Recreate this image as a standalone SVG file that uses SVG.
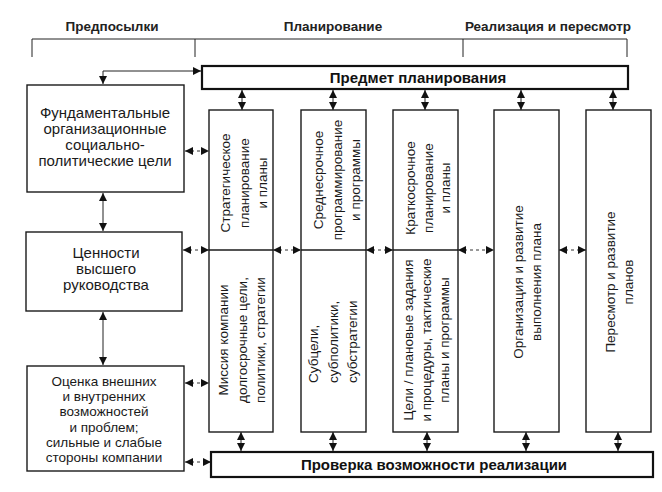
<svg xmlns="http://www.w3.org/2000/svg" width="662" height="492" viewBox="0 0 662 492">
<style>
  .box { fill: #fff; stroke: #1a1a1a; stroke-width: 1.4; }
  .bar { fill: #fff; stroke: #111; stroke-width: 2.2; }
  .ln { fill: none; stroke: #222; stroke-width: 1; }
  .dash { fill: none; stroke: #333; stroke-width: 1; stroke-dasharray: 3 3; }
  .div { fill: none; stroke: #1a1a1a; stroke-width: 1.4; }
  .hd { font-family: "Liberation Sans", Arial, sans-serif; font-weight: bold; font-size: 13.5px; fill: #222; text-anchor: middle; }
  .bt { font-family: "Liberation Sans", Arial, sans-serif; font-weight: bold; font-size: 15px; fill: #111; text-anchor: middle; }
  .lt { font-family: "Liberation Sans", Arial, sans-serif; font-size: 15px; fill: #1a1a1a; text-anchor: middle; }
  .ls { font-family: "Liberation Sans", Arial, sans-serif; font-size: 13.5px; fill: #1a1a1a; text-anchor: middle; }
  .ct { font-family: "Liberation Sans", Arial, sans-serif; font-size: 13.5px; fill: #1a1a1a; text-anchor: middle; }
  .cs { font-family: "Liberation Sans", Arial, sans-serif; font-size: 13.5px; fill: #1a1a1a; text-anchor: start; }
</style>
<defs>
  <marker id="ah" viewBox="0 0 10 10" refX="10" refY="5" markerWidth="8" markerHeight="8" markerUnits="userSpaceOnUse" orient="auto-start-reverse">
    <path d="M0,0 L10,5 L0,10 z" fill="#111"/>
  </marker>
</defs>
<rect width="662" height="492" fill="#fff"/>

<g id="headers">
  <text class="hd" x="112" y="31">Предпосылки</text>
  <text class="hd" x="333" y="31">Планирование</text>
  <text class="hd" x="548" y="31">Реализация и пересмотр</text>
  <path class="ln" d="M32,57 V39 H627 V57 M195,39 V57 M463,39 V57"/>
</g>

<g id="connectors">
  <path class="ln" d="M103,84 V71 H201" marker-start="url(#ah)" marker-end="url(#ah)"/>
  <path class="ln" d="M103,193 V231" marker-start="url(#ah)" marker-end="url(#ah)"/>
  <path class="ln" d="M103,312 V365" marker-start="url(#ah)" marker-end="url(#ah)"/>
  <path class="dash" d="M185,151 H209" marker-start="url(#ah)" marker-end="url(#ah)"/>
  <path class="dash" d="M183,250 H209" marker-start="url(#ah)" marker-end="url(#ah)"/>
  <path class="dash" d="M185,383 H209" marker-start="url(#ah)" marker-end="url(#ah)"/>
  <path class="dash" d="M185,462 H211" marker-start="url(#ah)" marker-end="url(#ah)"/>
  <path class="dash" d="M273,250 H301" marker-start="url(#ah)" marker-end="url(#ah)"/>
  <path class="dash" d="M366,250 H393" marker-start="url(#ah)" marker-end="url(#ah)"/>
  <path class="dash" d="M458,250 H494" marker-start="url(#ah)" marker-end="url(#ah)"/>
  <path class="dash" d="M559,250 H586" marker-start="url(#ah)" marker-end="url(#ah)"/>
  <path class="ln" d="M242,90 V110" marker-start="url(#ah)" marker-end="url(#ah)"/>
  <path class="ln" d="M333,90 V110" marker-start="url(#ah)" marker-end="url(#ah)"/>
  <path class="ln" d="M425,90 V110" marker-start="url(#ah)" marker-end="url(#ah)"/>
  <path class="ln" d="M521,90 V110" marker-start="url(#ah)" marker-end="url(#ah)"/>
  <path class="ln" d="M613,90 V110" marker-start="url(#ah)" marker-end="url(#ah)"/>
  <path class="ln" d="M241,432 V451" marker-start="url(#ah)" marker-end="url(#ah)"/>
  <path class="ln" d="M333,432 V451" marker-start="url(#ah)" marker-end="url(#ah)"/>
  <path class="ln" d="M427,432 V451" marker-start="url(#ah)" marker-end="url(#ah)"/>
  <path class="ln" d="M526,432 V451" marker-start="url(#ah)" marker-end="url(#ah)"/>
  <path class="ln" d="M618,432 V451" marker-start="url(#ah)" marker-end="url(#ah)"/>
</g>

<g id="top-bar">
  <rect class="bar" x="202" y="66" width="426" height="23"/>
  <text class="bt" x="418" y="83">Предмет планирования</text>
</g>

<g id="bottom-bar">
  <rect class="bar" x="211" y="452" width="442" height="25"/>
  <text class="bt" x="434" y="470">Проверка возможности реализации</text>
</g>

<g id="box-goals">
  <rect class="box" x="27" y="85" width="157" height="107"/>
  <text class="lt" x="105" y="118">Фундаментальные<tspan x="105" dy="16">организационные</tspan><tspan x="105" dy="16">социально-</tspan><tspan x="105" dy="16">политические цели</tspan></text>
</g>

<g id="box-values">
  <rect class="box" x="26" y="232" width="156" height="79"/>
  <text class="lt" x="106" y="258">Ценности<tspan x="106" dy="16">высшего</tspan><tspan x="106" dy="16">руководства</tspan></text>
</g>

<g id="box-swot">
  <rect class="box" x="27" y="366" width="157" height="105"/>
  <text class="ls" x="104" y="386">Оценка внешних<tspan x="104" dy="15.2">и внутренних</tspan><tspan x="104" dy="15.2">возможностей</tspan><tspan x="104" dy="15.2">и проблем;</tspan><tspan x="104" dy="15.2">сильные и слабые</tspan><tspan x="104" dy="15.2">стороны компании</tspan></text>
</g>

<g id="col-strategic">
  <rect class="box" x="209" y="110" width="64" height="322"/>
  <line class="div" x1="209" y1="250" x2="273" y2="250"/>
  <text class="ct" transform="translate(230,183) rotate(-90)">Стратегическое<tspan x="0" dy="18.5">планирование</tspan><tspan x="0" dy="18.5">и планы</tspan></text>
  <text class="ct" transform="translate(228,340) rotate(-90)">Миссия компании<tspan x="0" dy="18.5">долгосрочные цели,</tspan><tspan x="0" dy="18.5">политики, стратегии</tspan></text>
</g>

<g id="col-medium">
  <rect class="box" x="301" y="110" width="65" height="322"/>
  <line class="div" x1="301" y1="250" x2="366" y2="250"/>
  <text class="ct" transform="translate(323,180) rotate(-90)">Среднесрочное<tspan x="0" dy="18.5">программирование</tspan><tspan x="0" dy="18.5">и программы</tspan></text>
  <text class="cs" transform="translate(318,383) rotate(-90)">Субцели,<tspan x="0" dy="19.5">субполитики,</tspan><tspan x="0" dy="19.5">субстратегии</tspan></text>
</g>

<g id="col-short">
  <rect class="box" x="393" y="110" width="65" height="322"/>
  <line class="div" x1="393" y1="250" x2="458" y2="250"/>
  <text class="ct" transform="translate(415,188) rotate(-90)">Краткосрочное<tspan x="0" dy="17.5">планирование</tspan><tspan x="0" dy="17.5">и планы</tspan></text>
  <text class="ct" transform="translate(413,340) rotate(-90)">Цели / плановые задания<tspan x="0" dy="18">и процедуры, тактические</tspan><tspan x="0" dy="18">планы и программы</tspan></text>
</g>

<g id="col-implementation">
  <rect class="box" x="494" y="110" width="65" height="322"/>
  <text class="ct" transform="translate(523,282) rotate(-90)">Организация и развитие<tspan x="0" dy="18">выполнения плана</tspan></text>
</g>

<g id="col-review">
  <rect class="box" x="586" y="110" width="65" height="322"/>
  <text class="ct" transform="translate(615,282) rotate(-90)">Пересмотр и развитие<tspan x="0" dy="18">планов</tspan></text>
</g>
</svg>
